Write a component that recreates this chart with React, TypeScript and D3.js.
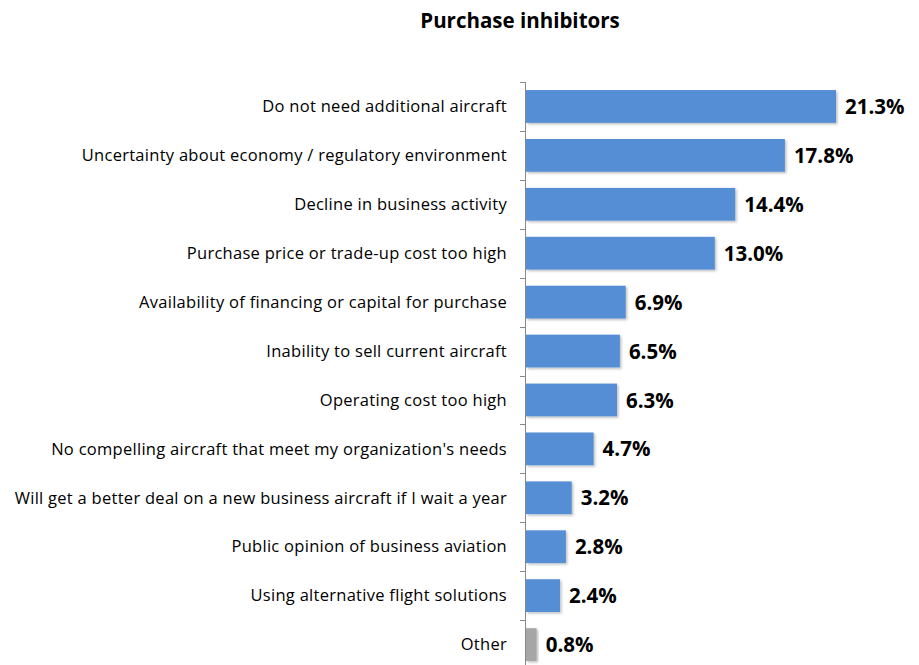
import * as d3 from "d3";
import { useEffect, useRef } from "react";

const categories = [
  "Do not need additional aircraft",
  "Uncertainty about economy / regulatory environment",
  "Decline in business activity",
  "Purchase price or trade-up cost too high",
  "Availability of financing or capital for purchase",
  "Inability to sell current aircraft",
  "Operating cost too high",
  "No compelling aircraft that meet my organization's needs",
  "Will get a better deal on a new business aircraft if I wait a year",
  "Public opinion of business aviation",
  "Using alternative flight solutions",
  "Other",
];

const values = [21.3, 17.8, 14.4, 13.0, 6.9, 6.5, 6.3, 4.7, 3.2, 2.8, 2.4, 0.8];

const title = "Purchase inhibitors";

const WIDTH = 919;
const HEIGHT = 665;
const FONT = "'Open Sans', Lato, sans-serif";

export default function App() {
  const ref = useRef<SVGSVGElement>(null);

  useEffect(() => {
    if (!ref.current) return;
    const svg = d3.select(ref.current);
    svg.selectAll("*").remove();

    const x0 = 525;
    const x = d3.scaleLinear().domain([0, 21.3]).range([x0, 836]);
    const y = d3
      .scaleBand<string>()
      .domain(categories)
      .range([82, 669])
      .paddingInner(0.33)
      .paddingOuter(0.165);

    const defs = svg.append("defs");
    const filter = defs
      .append("filter")
      .attr("id", "bar-shadow")
      .attr("x", "-10%")
      .attr("y", "-20%")
      .attr("width", "130%")
      .attr("height", "160%");
    filter
      .append("feDropShadow")
      .attr("dx", 1.5)
      .attr("dy", 1.5)
      .attr("stdDeviation", 1)
      .attr("flood-color", "#000")
      .attr("flood-opacity", 0.25);

    svg
      .append("text")
      .attr("x", 520)
      .attr("y", 28)
      .attr("text-anchor", "middle")
      .style("font-family", FONT)
      .style("font-weight", "bold")
      .style("font-size", "20.5px")
      .text(title);

    const rows = categories.map((c, i) => ({ label: c, value: values[i] }));

    // bars
    svg
      .append("g")
      .selectAll("rect")
      .data(rows)
      .enter()
      .append("rect")
      .attr("x", x0 + 1)
      .attr("y", (d) => y(d.label)!)
      .attr("width", (d) => x(d.value) - x0 - 1)
      .attr("height", y.bandwidth())
      .attr("fill", (d) => (d.label === "Other" ? "#A6A6A6" : "#558ED5"))
      .attr("filter", "url(#bar-shadow)");

    // axis
    const step = y.step();
    const axis = svg.append("g").attr("stroke", "#888").attr("stroke-width", 1);
    axis
      .append("line")
      .attr("x1", x0 + 0.5)
      .attr("x2", x0 + 0.5)
      .attr("y1", 82)
      .attr("y2", 669);
    d3.range(categories.length + 1).forEach((i) => {
      const ty = Math.round(82 + i * step) + 0.5;
      axis
        .append("line")
        .attr("x1", x0 - 5)
        .attr("x2", x0 + 0.5)
        .attr("y1", ty)
        .attr("y2", ty);
    });

    // category labels
    svg
      .append("g")
      .selectAll("text")
      .data(rows)
      .enter()
      .append("text")
      .attr("x", 507)
      .attr("y", (d) => y(d.label)! + y.bandwidth() / 2)
      .attr("dy", "0.35em")
      .attr("text-anchor", "end")
      .style("font-family", FONT)
      .style("font-size", "16.5px")
      .style("letter-spacing", "0.28px")
      .style("fill", "#000")
      .text((d) => d.label);

    // value labels
    svg
      .append("g")
      .selectAll("text")
      .data(rows)
      .enter()
      .append("text")
      .attr("x", (d) => x(d.value) + 9)
      .attr("y", (d) => y(d.label)! + y.bandwidth() / 2)
      .attr("dy", "0.37em")
      .style("font-family", FONT)
      .style("font-weight", "bold")
      .style("font-size", "20.5px")
      .style("fill", "#000")
      .text((d) => d.value.toFixed(1) + "%");
  }, []);

  return (
    <svg
      ref={ref}
      width={WIDTH}
      height={HEIGHT}
      style={{ position: "absolute", left: 0, top: 0, background: "#fff" }}
    />
  );
}
